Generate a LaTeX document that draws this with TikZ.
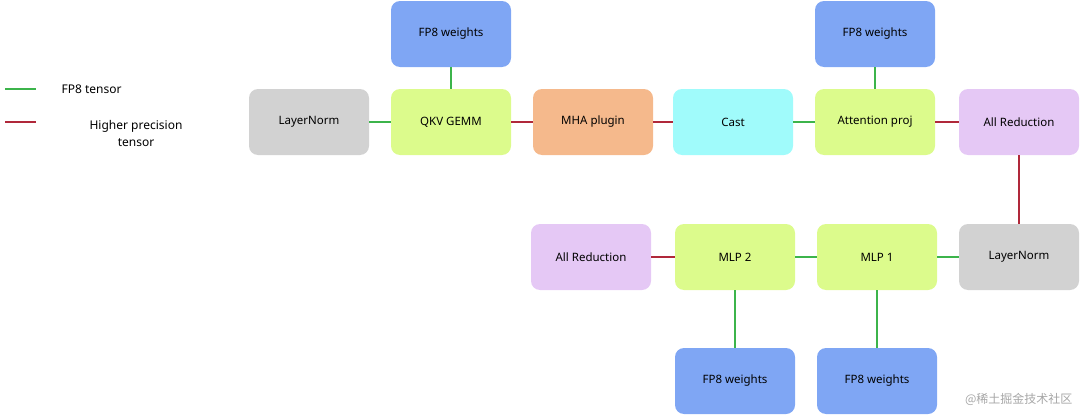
\documentclass[tikz,border=0pt]{standalone}
\usepackage{fontspec}
\setmainfont{Noto Sans}
\newfontfamily\cjk{Noto Sans CJK SC}
\definecolor{cblue}{HTML}{7FA6F4}
\definecolor{cgray}{HTML}{D2D2D2}
\definecolor{clime}{HTML}{DCFB8C}
\definecolor{corange}{HTML}{F5B98C}
\definecolor{ccyan}{HTML}{A0FBFB}
\definecolor{clav}{HTML}{E5C8F5}
\definecolor{cgreen}{HTML}{3CB44B}
\definecolor{cred}{HTML}{B0283A}
\begin{document}
\begin{tikzpicture}[x=1pt,y=-1pt,
  box/.style={draw=none,rounded corners=9pt,minimum width=120pt,minimum height=66pt,font=\fontsize{11.5}{13}\selectfont,inner sep=2pt},
  g/.style={draw=cgreen,line width=1.8pt},
  r/.style={draw=cred,line width=1.8pt}]
\useasboundingbox (0,0) rectangle (1080,415);
\node[box,fill=cblue] (w1) at (451,34) {FP8 weights};
\node[box,fill=cgray] (ln1) at (309,122) {LayerNorm};
\node[box,fill=clime] (qkv) at (451,122) {QKV GEMM};
\node[box,fill=corange] (mha) at (593,122) {MHA plugin};
\node[box,fill=ccyan] (cast) at (733,122) {Cast};
\node[box,fill=clime] (attn) at (875,122) {Attention proj};
\node[box,fill=cblue] (w2) at (875,34) {FP8 weights};
\node[box,fill=clav] (ar1) at (1019,122) {All Reduction};
\node[box,fill=cgray] (ln2) at (1019,257) {LayerNorm};
\node[box,fill=clime] (mlp1) at (877,257) {MLP 1};
\node[box,fill=clime] (mlp2) at (735,257) {MLP 2};
\node[box,fill=clav] (ar2) at (591,257) {All Reduction};
\node[box,fill=cblue] (w3) at (735,381) {FP8 weights};
\node[box,fill=cblue] (w4) at (877,381) {FP8 weights};
\draw[g] (ln1) -- (qkv);
\draw[g] (w1) -- (qkv);
\draw[r] (qkv) -- (mha);
\draw[r] (mha) -- (cast);
\draw[g] (cast) -- (attn);
\draw[g] (w2) -- (attn);
\draw[r] (attn) -- (ar1);
\draw[r] (ar1) -- (ln2);
\draw[g] (ln2) -- (mlp1);
\draw[g] (mlp1) -- (mlp2);
\draw[r] (mlp2) -- (ar2);
\draw[g] (w3) -- (mlp2);
\draw[g] (w4) -- (mlp1);
\coordinate (la) at (5,89); \coordinate (lb) at (36,89);
\coordinate (lc) at (5,122); \coordinate (ld) at (36,122);
\draw[g] (la) -- (lb);
\draw[r] (lc) -- (ld);
\node[anchor=west,font=\fontsize{12}{14}\selectfont] (t1) at (58,89) {FP8 tensor};
\node[align=center,font=\fontsize{12}{17}\selectfont] (t2) at (136,133) {Higher precision\\tensor};
\node[anchor=east,text=gray!70,font=\cjk\fontsize{12}{14}\selectfont] (wm) at (1076,399) {@稀土掘金技术社区};
\end{tikzpicture}
\end{document}
